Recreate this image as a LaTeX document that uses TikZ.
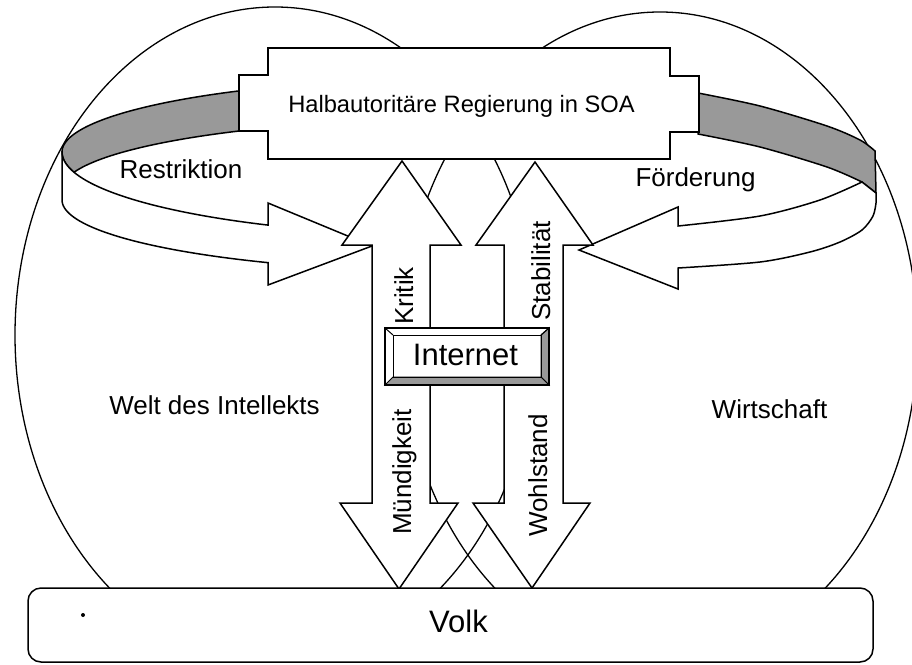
\documentclass[tikz,border=0pt]{standalone}
\usepackage{fontspec}
\setmainfont{Liberation Sans}
\definecolor{bandgray}{gray}{0.6}
\begin{document}
\begin{tikzpicture}[x=1pt,y=-1pt,line join=miter,
  outl/.style={line width=1.5pt,draw=black},
  circ/.style={line width=1.3pt,draw=black},
  band/.style={outl,fill=bandgray},
  face/.style={outl,fill=white},
  lbl/.style={font=\fontsize{26}{30}\selectfont,inner sep=0pt,anchor=base},
  biglbl/.style={font=\fontsize{31}{36}\selectfont,inner sep=0pt,anchor=base},
  titlelbl/.style={font=\fontsize{23.7}{28}\selectfont,inner sep=0pt,anchor=base}]
\useasboundingbox (0,0) rectangle (912,664);

% the two spheres
\begin{scope}
\clip (0,0) rectangle (912,588);
\draw[circ] (275,335) ellipse [x radius=260pt, y radius=328pt];
\draw[circ] (660,338) ellipse [x radius=257.5pt, y radius=326pt];
\end{scope}

% left ring part (Restriktion)
\filldraw[band] plot[domain=235.66:180,samples=40] ({468+406*cos(\x)},{152+74*sin(\x)})
  -- plot[domain=180:166.04,samples=10] ({468+406*cos(\x)},{152+84*sin(\x)})
  -- plot[domain=193.96:235.66,samples=30] ({468+406*cos(\x)},{189.3+70.6*sin(\x)})
  -- cycle;
\filldraw[face] plot[domain=180:119.5,samples=40] ({468+406*cos(\x)},{152+84*sin(\x)})
  -- (268,203) -- (372,246) -- (268,285)
  -- plot[domain=119.5:180,samples=40] ({468+406*cos(\x)},{200+72*sin(\x)})
  -- cycle;

% right ring part (Foerderung)
\filldraw[band] plot[smooth] coordinates {(698,93) (760,106) (827,126) (860,140) (875,151)}
  -- (876,193) -- (862,182)
  -- plot[smooth] coordinates {(862,182) (827,167) (760,147) (698,134)}
  -- cycle;
\filldraw[face] plot[smooth] coordinates {(862,182) (820,200) (760,216) (678,226)}
  -- (678,207) -- (579,250) -- (678,289)
  -- plot[smooth] coordinates {(678,268) (760,262) (810,252) (840,242) (862,230) (873,216) (876,203)}
  -- (876,193) -- cycle;

% government box
\filldraw[face] (268,48) -- (670,48) -- (670,76) -- (699,76) -- (699,132) -- (670,132)
  -- (670,159) -- (268,159) -- (268,131) -- (239,131) -- (239,75) -- (268,75) -- cycle;

% vertical double arrows
\filldraw[face] (402,161) -- (461,245) -- (430,245) -- (430,503) -- (458,503) -- (399,589)
  -- (340,503) -- (372,503) -- (372,245) -- (342,245) -- cycle;
\filldraw[face] (535,162) -- (593,245) -- (563,245) -- (563,503) -- (590,503) -- (532,588)
  -- (473,503) -- (504,503) -- (504,245) -- (476,245) -- cycle;

% Internet box with bevel
\filldraw[face] (385,328) rectangle (549,385);
\filldraw[outl,line width=1pt,fill=bandgray] (541,335) -- (549,328) -- (549,385) -- (541,377) -- cycle;
\filldraw[outl,line width=1pt,fill=bandgray] (393,377) -- (541,377) -- (549,385) -- (385,385) -- cycle;
\draw[outl,line width=1pt] (393,335) rectangle (541,377);
\draw[line width=1pt] (385,328) -- (393,335) (549,328) -- (541,335);
\draw[outl] (385,328) rectangle (549,385);

% Volk box
\filldraw[face,rounded corners=13pt] (28,588) rectangle (873,662);
\fill (83,615) circle (2pt);

% labels
\node[titlelbl] (tgov) at (461.5,112) {Halbautoritäre Regierung in SOA};
\node[lbl] (trestr) at (181,178) {Restriktion};
\node[lbl] (tfoerd) at (695.5,186) {Förderung};
\node[lbl] (twelt) at (214.5,414) {Welt des Intellekts};
\node[lbl] (twirt) at (769.5,418) {Wirtschaft};
\node[biglbl] (tinet) at (465.5,365) {Internet};
\node[biglbl] (tvolk) at (458.5,632) {Volk};
\node[lbl,rotate=90] (tkrit) at (413,296) {Kritik};
\node[lbl,rotate=90] (tstab) at (550,271) {Stabilität};
\node[lbl,rotate=90] (tmuend) at (411,472) {Mündigkeit};
\node[lbl,rotate=90] (twohl) at (547,475.5) {Wohlstand};
\end{tikzpicture}
\end{document}
